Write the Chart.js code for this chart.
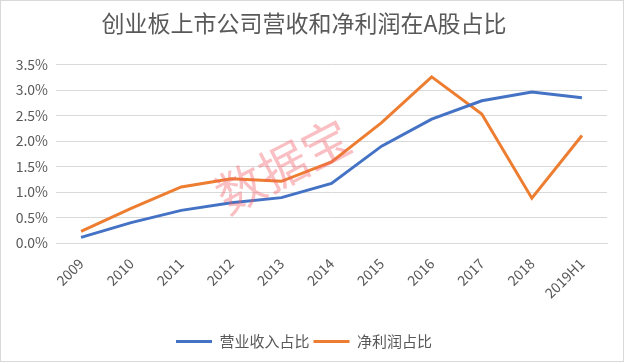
<!DOCTYPE html>
<html>
<head>
<meta charset="utf-8">
<script src="https://cdn.jsdelivr.net/npm/chart.js@4"></script>
<style>
  body { margin: 0; background: #fff; }
  #wrap { width: 624px; height: 362px; box-sizing: border-box; border: 1px solid #d9d9d9; position: relative; }
  canvas { position: absolute; left: 0; top: 0; }
</style>
</head>
<body>
<div id="wrap"><canvas id="myChart" width="624" height="362"></canvas></div>
<script>
var years = ["2009", "2010", "2011", "2012", "2013", "2014", "2015", "2016", "2017", "2018", "2019H1"];
var revenueShare = [0.11, 0.40, 0.64, 0.79, 0.89, 1.17, 1.90, 2.43, 2.79, 2.96, 2.85];
var profitShare = [0.23, 0.68, 1.10, 1.26, 1.21, 1.59, 2.36, 3.26, 2.53, 0.88, 2.11];
var seriesNames = ["营业收入占比", "净利润占比"];

var fontFamily = "'Microsoft YaHei', 'Noto Sans CJK SC', 'Liberation Sans', sans-serif";

// 水印
var watermark = {
  id: 'watermark',
  afterDatasetsDraw: function(chart) {
    var c = chart.ctx;
    c.save();
    c.translate(282, 165);
    c.rotate(-0.48);
    c.font = "48px " + fontFamily;
    c.fillStyle = "rgba(242, 95, 105, 0.4)";
    c.textAlign = "center";
    c.textBaseline = "middle";
    c.fillText("数据宝", 0, 0);
    c.restore();
  }
};

new Chart("myChart", {
  type: "line",
  data: {
    labels: years,
    datasets: [
      {
        label: seriesNames[0],
        data: revenueShare,
        borderColor: "#4472C4",
        backgroundColor: "#4472C4",
        borderWidth: 3,
        pointRadius: 0,
        tension: 0
      },
      {
        label: seriesNames[1],
        data: profitShare,
        borderColor: "#ED7D31",
        backgroundColor: "#ED7D31",
        borderWidth: 3,
        pointRadius: 0,
        tension: 0
      }
    ]
  },
  options: {
    responsive: false,
    animation: false,
    layout: { padding: { left: 0, right: 18, top: 0, bottom: 4 } },
    plugins: {
      title: {
        display: true,
        text: "创业板上市公司营收和净利润在A股占比",
        color: "#595959",
        font: { size: 23, weight: "normal", family: fontFamily },
        padding: { top: 8, bottom: 28 }
      },
      legend: {
        position: "bottom",
        labels: {
          usePointStyle: true,
          pointStyle: "line",
          pointStyleWidth: 36,
          color: "#595959",
          font: { size: 15, family: fontFamily },
          padding: 4
        }
      },
      tooltip: { enabled: false }
    },
    scales: {
      x: {
        offset: true,
        grid: { display: false, drawTicks: false },
        border: { color: "#d9d9d9" },
        ticks: {
          color: "#595959",
          font: { size: 14, family: fontFamily },
          maxRotation: 45,
          minRotation: 45,
          autoSkip: false,
          padding: 12
        },
        afterFit: function(scale) { scale.height = 87; }
      },
      y: {
        min: 0,
        max: 3.5,
        grid: { color: "#d9d9d9", drawTicks: false },
        border: { display: false },
        ticks: {
          stepSize: 0.5,
          color: "#595959",
          font: { size: 14, family: fontFamily },
          padding: 8,
          callback: function(v) { return v.toFixed(1) + "%"; }
        },
        afterFit: function(scale) { scale.width = 55; }
      }
    }
  },
  plugins: [watermark]
});
</script>
</body>
</html>
